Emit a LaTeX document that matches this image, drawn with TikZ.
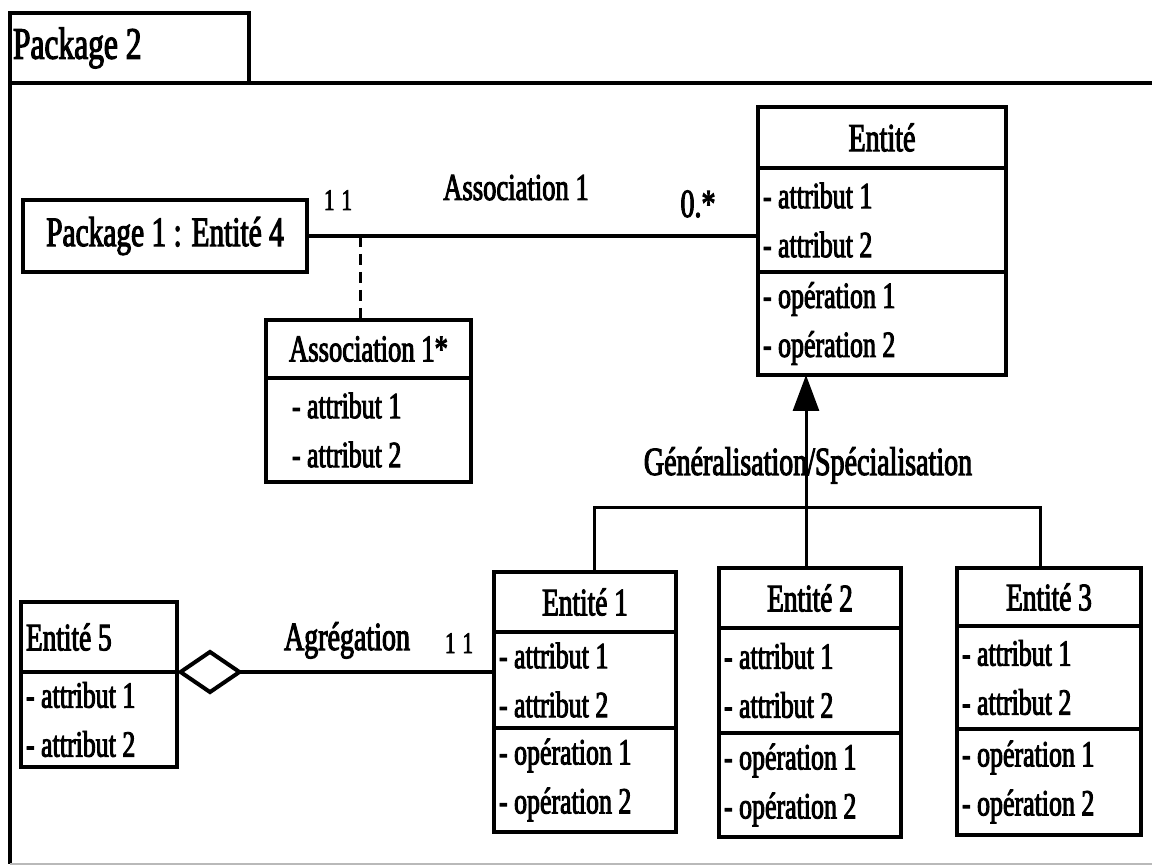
\documentclass[tikz,border=0pt]{standalone}
\usepackage{fontspec}
\setmainfont{Liberation Serif}[FakeStretch=0.7,FakeBold=2.5]
\usetikzlibrary{arrows.meta}
\newcommand\fsz[1]{\fontsize{#1}{49}\selectfont}
\begin{document}
\begin{tikzpicture}[x=1pt,y=-1pt,
  umlbox/.style={draw, line width=4pt, rectangle, anchor=north west,
    outer sep=0pt, inner ysep=0pt, font=\fsz{37}},
  hdr/.style={umlbox, align=flush center, inner xsep=4pt},
  lst/.style={umlbox, align=flush left, inner xsep=5pt},
  link/.style={line width=4pt},
  lbl/.style={anchor=base, inner sep=0pt, font=\fsz{37}}
]
\useasboundingbox (0,0) rectangle (1152,866);

% package frame with its name tab
\node[lst, text width=233pt, minimum height=70pt, inner xsep=3pt, font=\fsz{45}]
  (tab) at (10,13) {Package 2};
\draw[line width=4pt] (1152,83) -- (tab.south west) -- (10,864);
\draw[gray!55, line width=2.5pt] (10,864) -- (1152,864);

% imported entity
\node[hdr, text width=276pt, minimum height=72pt, font=\fsz{42}]
  (p1) at (23,200) {Package 1 : Entité 4};

% Entité
\node[hdr, text width=240pt, minimum height=61pt, font=\fsz{40}] (ent-h) at (758,107) {Entité};
\node[lst, text width=238pt, minimum height=104pt] (ent-a) at (ent-h.south west) {- attribut 1\\- attribut 2};
\node[lst, text width=238pt, minimum height=103pt] (ent-o) at (ent-a.south west) {- opération 1\\- opération 2};

% association class
\node[hdr, text width=197pt, minimum height=58pt, font=\fsz{38}] (as-h) at (266,320) {Association 1*};
\node[lst, inner xsep=26pt, text width=153pt, minimum height=104pt] (as-a) at (as-h.south west) {- attribut 1\\- attribut 2};

% Entité 1
\node[hdr, text width=174pt, minimum height=60pt, font=\fsz{39}] (e1-h) at (494,572) {Entité 1};
\node[lst, text width=172pt, minimum height=96pt] (e1-a) at (e1-h.south west) {- attribut 1\\- attribut 2};
\node[lst, text width=172pt, minimum height=104pt] (e1-o) at (e1-a.south west) {- opération 1\\- opération 2};

% Entité 2
\node[hdr, text width=174pt, minimum height=60pt, font=\fsz{39}] (e2-h) at (719,568) {Entité 2};
\node[lst, text width=172pt, minimum height=105pt] (e2-a) at (e2-h.south west) {- attribut 1\\- attribut 2};
\node[lst, text width=172pt, minimum height=104pt] (e2-o) at (e2-a.south west) {- opération 1\\- opération 2};

% Entité 3
\node[hdr, text width=176pt, minimum height=58pt, font=\fsz{39}] (e3-h) at (957,568) {Entité 3};
\node[lst, text width=174pt, minimum height=103pt] (e3-a) at (e3-h.south west) {- attribut 1\\- attribut 2};
\node[lst, text width=174pt, minimum height=106pt] (e3-o) at (e3-a.south west) {- opération 1\\- opération 2};

% Entité 5
\node[lst, text width=146pt, minimum height=70pt, inner xsep=5pt, font=\fsz{39}] (e5-h) at (21,602) {Entité 5};
\node[lst, text width=146pt, minimum height=95pt] (e5-a) at (e5-h.south west) {- attribut 1\\- attribut 2};

% association between Package 1 : Entité 4 and Entité
\draw[link] (p1.east) -- (p1.east -| ent-a.west);
\coordinate (assoc-drop) at (360,236);
\draw[line width=3pt, dash pattern=on 11pt off 7pt] (assoc-drop) -- (assoc-drop |- as-h.north);
\node[lbl, font=\fsz{30}] (m-p1) at (338,210) {1\hspace{7pt}1};
\node[lbl, font=\fsz{38}] (assoc-name) at (516,200) {Association 1};
\node[lbl, font=\fsz{40}] (m-ent) at (698,217) {0.*};

% generalisation / specialisation
\coordinate (fork) at (806,508);
\draw[line width=3pt] (e2-h.north -| fork) -- (fork);
\draw[line width=3pt, -{Triangle[length=36pt,width=26pt]}] (fork) -- (fork |- ent-o.south);
\draw[line width=3pt] ([xshift=9pt]e1-h.north) |- (fork) -| ([xshift=-9pt]e3-h.north);
\node[lbl, font=\fsz{40}] (gen-name) at (808,475) {Généralisation/Spécialisation};

% aggregation
\draw[link, -{Diamond[open,length=66pt,width=45pt]}] (e5-h.south east -| e1-a.west) -- (e5-h.south east);
\node[lbl, font=\fsz{40}] (agg-name) at (347,650) {Agrégation};
\node[lbl, font=\fsz{30}] (m-e1) at (459,653) {1\hspace{7pt}1};
\end{tikzpicture}
\end{document}
